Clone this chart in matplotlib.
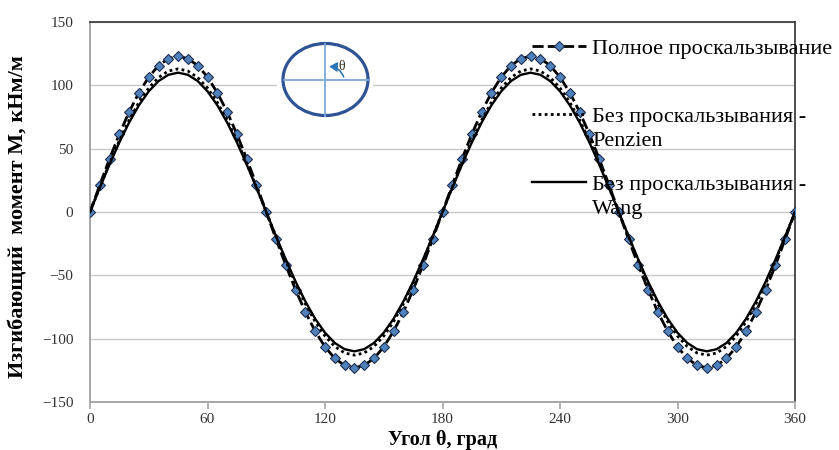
import matplotlib
matplotlib.use("Agg")
import matplotlib.pyplot as plt
import numpy as np
from matplotlib.patches import Ellipse, FancyArrowPatch, Rectangle

# ---------------- data ----------------
angles = list(range(0, 361, 5))

full_slip = [0, 21.4, 42.1, 61.5, 79.1, 94.2, 106.5, 115.6, 121.1, 123.0, 121.1, 115.6, 106.5, 94.2, 79.1, 61.5, 42.1, 21.4, 0,
             -21.4, -42.1, -61.5, -79.1, -94.2, -106.5, -115.6, -121.1, -123.0, -121.1, -115.6, -106.5, -94.2, -79.1, -61.5, -42.1, -21.4, 0,
             21.4, 42.1, 61.5, 79.1, 94.2, 106.5, 115.6, 121.1, 123.0, 121.1, 115.6, 106.5, 94.2, 79.1, 61.5, 42.1, 21.4, 0,
             -21.4, -42.1, -61.5, -79.1, -94.2, -106.5, -115.6, -121.1, -123.0, -121.1, -115.6, -106.5, -94.2, -79.1, -61.5, -42.1, -21.4, 0]

penzien = [0, 19.6, 38.6, 56.5, 72.6, 86.6, 97.9, 106.2, 111.3, 113.0, 111.3, 106.2, 97.9, 86.6, 72.6, 56.5, 38.6, 19.6, 0,
           -19.6, -38.6, -56.5, -72.6, -86.6, -97.9, -106.2, -111.3, -113.0, -111.3, -106.2, -97.9, -86.6, -72.6, -56.5, -38.6, -19.6, 0,
           19.6, 38.6, 56.5, 72.6, 86.6, 97.9, 106.2, 111.3, 113.0, 111.3, 106.2, 97.9, 86.6, 72.6, 56.5, 38.6, 19.6, 0,
           -19.6, -38.6, -56.5, -72.6, -86.6, -97.9, -106.2, -111.3, -113.0, -111.3, -106.2, -97.9, -86.6, -72.6, -56.5, -38.6, -19.6, 0]

wang = [0, 19.1, 37.6, 55.0, 70.7, 84.3, 95.3, 103.4, 108.3, 110.0, 108.3, 103.4, 95.3, 84.3, 70.7, 55.0, 37.6, 19.1, 0,
        -19.1, -37.6, -55.0, -70.7, -84.3, -95.3, -103.4, -108.3, -110.0, -108.3, -103.4, -95.3, -84.3, -70.7, -55.0, -37.6, -19.1, 0,
        19.1, 37.6, 55.0, 70.7, 84.3, 95.3, 103.4, 108.3, 110.0, 108.3, 103.4, 95.3, 84.3, 70.7, 55.0, 37.6, 19.1, 0,
        -19.1, -37.6, -55.0, -70.7, -84.3, -95.3, -103.4, -108.3, -110.0, -108.3, -103.4, -95.3, -84.3, -70.7, -55.0, -37.6, -19.1, 0]

x_ticks = [0, 60, 120, 180, 240, 300, 360]
y_ticks = [-150, -100, -50, 0, 50, 100, 150]

label_full = "Полное проскальзывание"
label_penzien = ["Без проскальзывания -", "Penzien"]
label_wang = ["Без проскальзывания -", "Wang"]
xlabel = "Угол θ, град"
ylabel = "Изгибающий  момент М, кНм/м"

# ---------------- figure ----------------
W, H = 839, 450
fig = plt.figure(figsize=(W / 100, H / 100), dpi=100)
serif = ["Liberation Serif", "DejaVu Serif"]
plt.rcParams['font.family'] = serif

L, R, T, B = 90, 795, 22, 402
ax = fig.add_axes([L / W, 1 - B / H, (R - L) / W, (B - T) / H])

ax.set_xlim(0, 360)
ax.set_ylim(-150, 150)
ax.set_xticks(x_ticks)
ax.set_yticks(y_ticks)
ax.yaxis.grid(True, color="#c8c8c8", linewidth=1.0)
ax.set_axisbelow(True)

for side in ["top", "right"]:
    ax.spines[side].set_color("#404040")
    ax.spines[side].set_linewidth(1.3)
for side in ["left", "bottom"]:
    ax.spines[side].set_color("#a6a6a6")
    ax.spines[side].set_linewidth(1.4)

ax.tick_params(axis="x", direction="out", length=5, width=1.2, color="#a6a6a6",
               labelsize=11, labelcolor="#333333", pad=3)
ax.tick_params(axis="y", length=0, labelsize=11, labelcolor="#333333", pad=12)

l1, = ax.plot(angles, full_slip, color="black", linewidth=2.0, linestyle=(0, (4, 1.5)),
              marker="D", markersize=5.6, markerfacecolor="#4F81BD",
              markeredgecolor="#1f2f4f", markeredgewidth=0.8, zorder=3)
l2, = ax.plot(angles, penzien, color="black", linewidth=2.0, linestyle=(0, (1, 1.2)), zorder=4)
l3, = ax.plot(angles, wang, color="black", linewidth=1.7, linestyle="-", zorder=4)

# axis labels
ax.set_xlabel(xlabel, fontsize=14.5, fontweight="bold")
ax.xaxis.label.set_va("baseline")
ax.xaxis.set_label_coords(0.5, -(445 - B) / (B - T))
ax.set_ylabel(ylabel, fontsize=16, fontweight="bold")
ax.yaxis.label.set_va("center")
ax.yaxis.set_label_coords((19 - L) / (R - L), (B - 217) / (B - T))

# legend
leg_fs = 16
leg = ax.legend([l1, l2, l3], [label_full, label_penzien[0], label_wang[0]],
                loc="upper left", bbox_to_anchor=(532 / W, 1 - 38 / H),
                bbox_transform=fig.transFigure, frameon=False, borderpad=0,
                borderaxespad=0, handlelength=2.45, handletextpad=0.27,
                labelspacing=2.15, numpoints=1, fontsize=leg_fs)

# second lines of the wrapped legend labels
fig.canvas.draw()
inv = fig.transFigure.inverted()
for t, extra in zip(leg.get_texts()[1:], [label_penzien[1], label_wang[1]]):
    bb = t.get_window_extent()
    fx, fy = inv.transform((bb.x0, bb.y0 - 5))
    fig.text(fx, fy, extra, ha="left", va="top", fontsize=leg_fs)

# inset sketch (ellipse with angle)
iL, iR, iT, iB = 277, 373, 38, 122
iax = fig.add_axes([iL / W, 1 - iB / H, (iR - iL) / W, (iB - iT) / H])
iax.set_xlim(0, iR - iL)
iax.set_ylim(0, iB - iT)
iax.axis("off")
iax.add_patch(Rectangle((0, 0), iR - iL, iB - iT, facecolor="white", edgecolor="none"))
cx, cy = 48.5, 42.5
iax.plot([cx - 42, cx + 42], [cy, cy], color="#7FA7DA", linewidth=1.3)
iax.plot([cx - 0.5, cx - 0.5], [cy - 36, cy + 36], color="#7FA7DA", linewidth=1.3)
iax.add_patch(Ellipse((cx, cy), 85, 72, facecolor="none", edgecolor="#2F5496", linewidth=2.3))
iax.add_patch(FancyArrowPatch((cx + 19, cy), (cx + 1, cy + 13),
                              connectionstyle="arc3,rad=0.4",
                              arrowstyle="-|>,head_length=4.5,head_width=2.8",
                              color="#2E75B6", linewidth=1.2))
iax.text(cx + 16, cy + 13, "θ", fontsize=10, color="#3a3020", ha="center", va="center")

fig.savefig("out.png", dpi=100)
